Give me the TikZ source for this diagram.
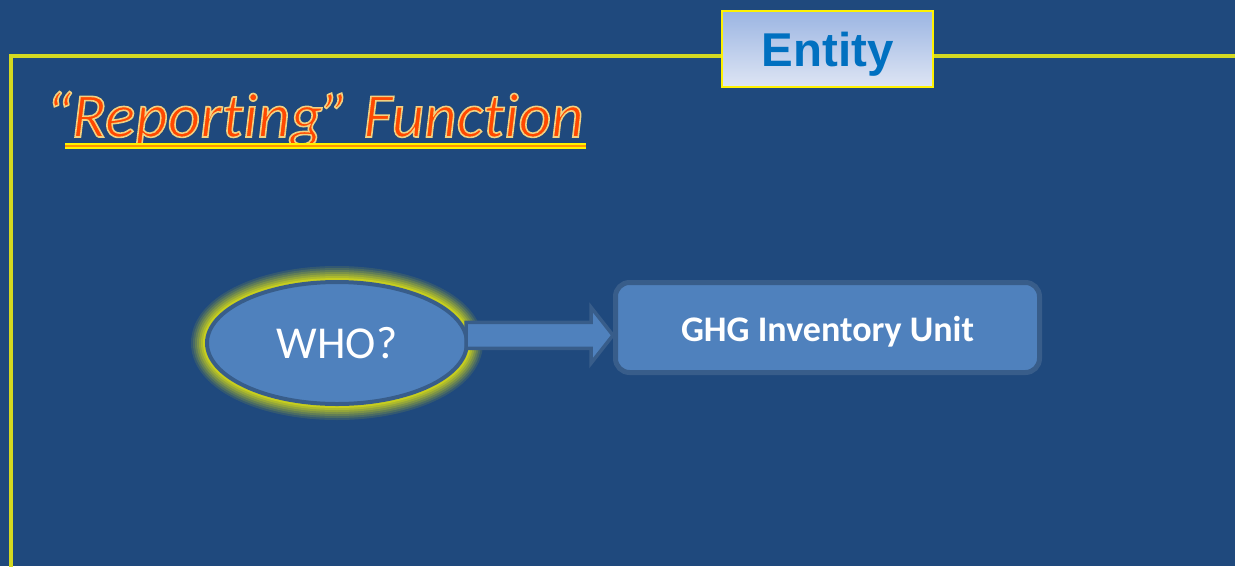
\documentclass[tikz,border=0pt]{standalone}
\usepackage{fontspec}
\setmainfont{Carlito}[Ligatures=NoCommon]
\newfontfamily\arialfont{Liberation Sans}
\usetikzlibrary{positioning, shapes.geometric, calc}

\definecolor{slidebg}{RGB}{31,73,125}
\definecolor{accentfill}{RGB}{79,129,189}
\definecolor{accentline}{RGB}{56,93,138}
\definecolor{framelime}{RGB}{212,217,33}
\definecolor{entityblue}{RGB}{0,112,192}
\definecolor{entitytop}{RGB}{155,181,226}
\definecolor{entitybot}{RGB}{222,229,244}
\definecolor{titlered}{RGB}{255,72,0}
\definecolor{glowyellow}{RGB}{238,238,10}
\definecolor{lineorange}{RGB}{255,150,0}

% orange letters with a pale edge (fill + stroke text mode)
\newcommand\edged[1]{\special{pdf:literal q 2 Tr 0.9 w 0.95 0.82 0.5 RG}#1\special{pdf:literal Q}}

\begin{document}
\begin{tikzpicture}[
    x=0.2mm, y=-0.2mm,
    whostyle/.style={ellipse, fill=accentfill, draw=accentline, line width=0.8mm,
        minimum width=52mm, minimum height=24.4mm, inner sep=0pt,
        text=white, font=\fontsize{26}{30}\selectfont},
    unitbox/.style={rectangle, rounded corners=2.8mm, fill=accentfill, draw=accentline,
        line width=1mm, minimum width=84.8mm, minimum height=18mm, inner sep=0pt,
        text height=16pt, text depth=0pt,
        text=white, font=\bfseries\fontsize{20.5}{24}\selectfont},
    entitytab/.style={rectangle, draw=yellow, line width=0.4mm,
        top color=entitytop, bottom color=entitybot,
        minimum width=42.2mm, minimum height=15.2mm, inner sep=0pt,
        text height=19.4pt, text depth=0pt,
        text=entityblue, font=\arialfont\bfseries\fontsize{27}{32}\selectfont},
    titletext/.style={inner sep=0pt, text=titlered,
        font=\itshape\fontsize{36}{40}\selectfont},
    blockarrow/.style={fill=accentfill, draw=accentline, line width=0.7mm, line join=miter}
]
    % slide background and frame
    \fill[slidebg] (0,0) rectangle (1235,566);
    \useasboundingbox (0,0) rectangle (1235,566);
    \draw[framelime, line width=0.8mm] (1250,56) -- (11,56) -- (11,580);

    \node[entitytab] (entity) at (827.5,49) {Entity};

    % title with underline
    \node[titletext, anchor=base west] (title) at (45,137) {\edged{“Reporting” Function}};
    \draw[yellow, line width=1.1mm] ($(title.base west)+(20,9)$) -- ($(title.base east)+(2,9)$);
    \draw[lineorange, line width=0.5mm] ($(title.base west)+(20,9)$) -- ($(title.base east)+(2,9)$);

    % glowing ellipse
    \coordinate (whoc) at (337,343);
    \foreach \w/\o in {32/0.1, 28/0.12, 24/0.15, 20/0.18, 16/0.22, 12/0.28, 8/0.4, 4/0.6}
        \draw[glowyellow, line width=\w*0.2mm, opacity=\o] (whoc) ellipse [x radius=130, y radius=61];
    \node[whostyle] (who) at (whoc) {WHO?};

    \node[unitbox] (unit) at (827.5,327.5) {GHG Inventory Unit};

    \draw[blockarrow] let \p1=($(who.east)+(-3,0)$), \p2=(unit.west), \n1={0.5*(\y1+\y2)} in
        (\x1,\n1+2.6mm) -- (\x2-4.4mm,\n1+2.6mm) -- (\x2-4.4mm,\n1+5.6mm) -- (\x2,\n1)
        -- (\x2-4.4mm,\n1-5.6mm) -- (\x2-4.4mm,\n1-2.6mm) -- (\x1,\n1-2.6mm) -- cycle;
\end{tikzpicture}
\end{document}
